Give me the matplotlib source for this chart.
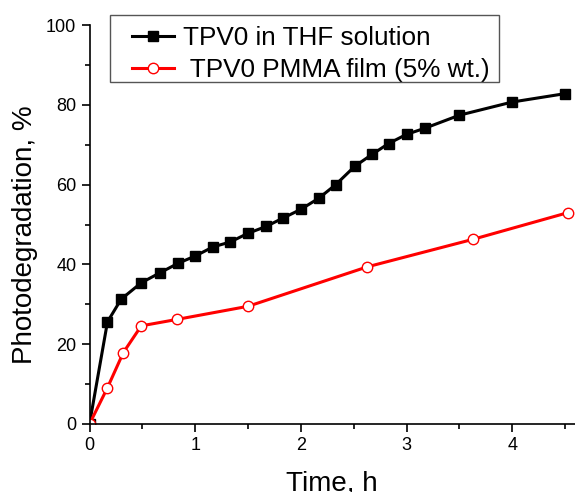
import matplotlib
matplotlib.use("Agg")
import matplotlib.pyplot as plt
from matplotlib.patches import Rectangle

plt.rcParams['font.family'] = ['Liberation Sans', 'DejaVu Sans']

# Data
t_thf = [0, 0.17, 0.30, 0.49, 0.667, 0.84, 1.0, 1.17, 1.33, 1.50, 1.67, 1.83,
         2.0, 2.17, 2.33, 2.51, 2.675, 2.83, 3.0, 3.17, 3.50, 4.0, 4.50]
y_thf = [0, 25.6, 31.3, 35.4, 37.9, 40.3, 42.1, 44.4, 45.6, 47.8, 49.5, 51.6,
         53.8, 56.6, 60.0, 64.6, 67.6, 70.3, 72.6, 74.1, 77.4, 80.7, 82.8]
t_film = [0, 0.17, 0.32, 0.49, 0.825, 1.50, 2.63, 3.63, 4.53]
y_film = [0, 9.1, 17.9, 24.6, 26.2, 29.5, 39.4, 46.3, 53.0]

label_thf = "TPV0 in THF solution"
label_film = " TPV0 PMMA film (5% wt.)"

W, H = 575, 492
fig = plt.figure(figsize=(W / 100, H / 100), dpi=100)
ax = fig.add_axes([89.5 / W, 68 / H, 1 - 89.5 / W, 399 / H])

ax.plot(t_thf, y_thf, color='black', lw=2.2, marker='s', ms=6.5,
        mfc='black', mec='black', label=label_thf)
ax.plot(t_film, y_film, color='#ff0000', lw=2.2, marker='o', ms=7.5,
        mfc='white', mec='#ff0000', mew=1.0, label=label_film)

ax.set_xlim(0, (W - 89.5) / 105.7)
ax.set_ylim(0, 100)
ax.set_xticks([0, 1, 2, 3, 4])
ax.set_xticks([0.5, 1.5, 2.5, 3.5, 4.5], minor=True)
ax.set_yticks([0, 20, 40, 60, 80, 100])
ax.set_yticks([10, 30, 50, 70, 90], minor=True)
ax.tick_params(which='major', direction='out', length=6, width=1.2, labelsize=13)
ax.tick_params(which='minor', direction='out', length=3.5, width=1.2)

for s in ['top', 'right']:
    ax.spines[s].set_visible(False)
for s in ['left', 'bottom']:
    ax.spines[s].set_linewidth(1.2)

ax.set_xlabel("Time, h", fontsize=20, labelpad=12)
ax.set_ylabel("Photodegradation, %", fontsize=20)
ax.yaxis.set_label_coords(-0.106, 0.474)

leg = ax.legend(loc='upper left', bbox_to_anchor=(124.5 / W, 1 - 18 / H),
                bbox_transform=fig.transFigure, fontsize=18.8, frameon=False,
                borderaxespad=0, handlelength=1.6, handletextpad=0.35,
                borderpad=0.3, labelspacing=0.3)

fig.patches.append(Rectangle((110 / W, 1 - 82 / H), (499 - 110) / W, (82 - 15) / H,
                             transform=fig.transFigure, fill=False,
                             edgecolor='#555555', lw=1.0, zorder=5))

fig.savefig("out.png", dpi=100)
